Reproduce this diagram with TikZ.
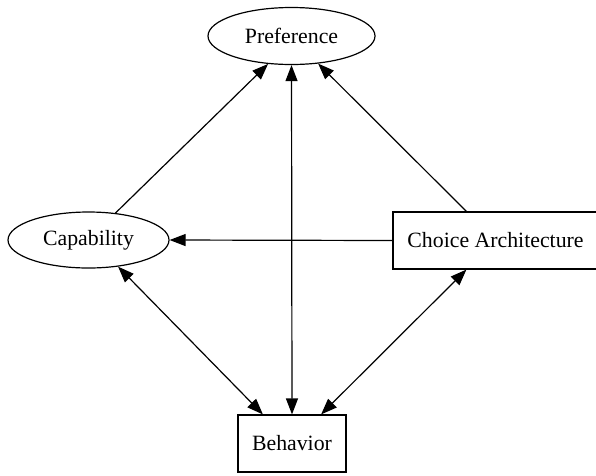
\documentclass[tikz,border=0pt]{standalone}
\usepackage{fontspec}
\setmainfont{Liberation Serif}
\usetikzlibrary{shapes.geometric}
\usetikzlibrary{arrows.meta}
\tikzset{DAGstyle/.style={
    x=1pt,% one unit is one pixel of the target
    y=-1pt,% y runs downwards
    line width=1.2pt,
    >={Triangle[length=16pt,width=12pt]},
    every node/.style={% appearance of all nodes
      draw,
      line width=1.2pt,
      inner sep=0pt,
      font=\fontsize{21.8}{26}\selectfont
    }
  },
  ovalnode/.style={ellipse},
  boxnode/.style={rectangle}
}

\begin{document}
\begin{tikzpicture}[DAGstyle]
    \useasboundingbox (0,0) rectangle (596,475);
    \node[ovalnode, minimum width=167pt, minimum height=57pt] (pref) at (291.5,36) {Preference};
    \node[ovalnode, minimum width=161pt, minimum height=56pt] (cap) at (88.5,240) {Capability};
    \node[boxnode, minimum width=205pt, minimum height=57pt] (choice) at (495.5,240.5) {Choice Architecture};
    \node[boxnode, minimum width=108pt, minimum height=57pt] (behav) at (292,443.5) {Behavior};
    % edges
    \draw[->] (cap.45) -- (pref.230);
    \draw[->] (choice.135) -- (pref.314);
    \draw[<->] (behav.north) -- (pref.south);
    \draw[->] (choice.west) -- (cap.east);
    \draw[<->] (cap.318) -- (behav.135);
    \draw[<->] (choice.225) -- (behav.45);
\end{tikzpicture}
\end{document}
